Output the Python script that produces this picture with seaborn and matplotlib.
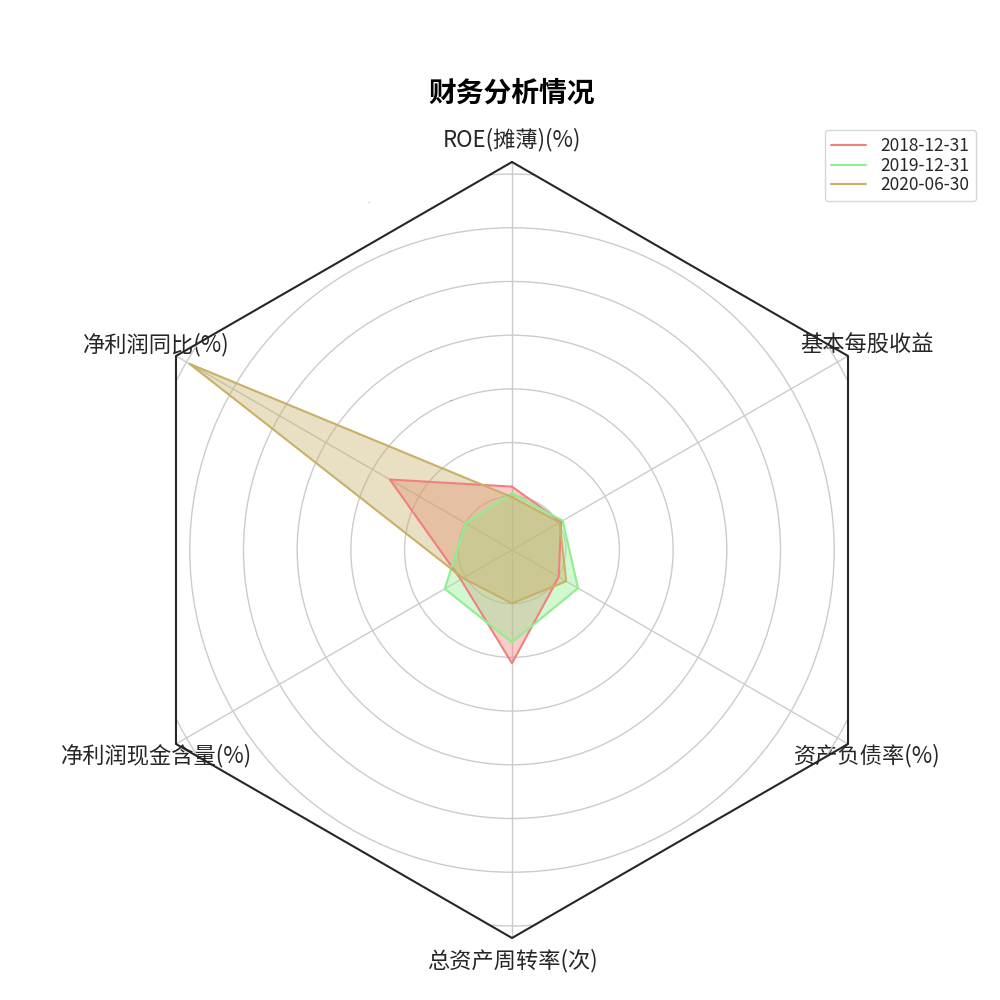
import numpy as np
import pandas as pd
import seaborn as sns
import matplotlib.pyplot as plt
from matplotlib.patches import Polygon

# ---- data ----
categories = ["ROE(摊薄)(%)", "净利润同比(%)", "净利润现金含量(%)",
              "总资产周转率(次)", "资产负债率(%)", "基本每股收益"]
dates = ["2018-12-31", "2019-12-31", "2020-06-30"]
values_2018 = [23.6, 52.5, 22.0, 42.2, 20.1, 21.1]
values_2019 = [21.1, 20.0, 28.9, 34.4, 28.4, 21.8]
values_2020 = [19.7, 138.7, 21.0, 19.9, 23.3, 20.5]
r_ticks = [20, 40, 60, 80, 100, 120, 140]
r_max = 144.5
colors = ["#F08080", "#8FEE8F", "#C8B067"]

series = [values_2018, values_2019, values_2020]

sns.set_theme(style="whitegrid")
plt.rcParams['font.family'] = ['Noto Sans CJK SC', 'DejaVu Sans']

n = len(categories)
angles = np.linspace(0, 2 * np.pi, n, endpoint=False)
angles_closed = np.concatenate([angles, [2 * np.pi]])

rows = []
for d, vals in zip(dates, series):
    vc = list(vals) + [vals[0]]
    for i, (a, v) in enumerate(zip(angles_closed, vc)):
        rows.append({"date": d, "theta": a, "value": v, "order": i})
df = pd.DataFrame(rows)

fig = plt.figure(figsize=(10, 10), dpi=100)
ax = fig.add_axes([0.124, 0.062, 0.776, 0.776], projection='polar')
ax.set_theta_offset(np.pi / 2)
ax.set_theta_direction(1)

sns.lineplot(data=df, x="theta", y="value", hue="date", palette=colors,
             sort=False, estimator=None, ax=ax, legend=False, linewidth=1.5)
for d, c in zip(dates, colors):
    sub = df[df["date"] == d]
    ax.fill(sub["theta"], sub["value"], color=c, alpha=0.4, linewidth=0)

ax.set_xlabel("")
ax.set_ylabel("")
ax.set_ylim(0, r_max)
ax.set_xticks(angles)
ax.set_xticklabels(categories, fontsize=16, color="#262626")
ax.tick_params(axis='x', pad=3)
ax.set_yticks(r_ticks)
ax.set_yticklabels([str(t) for t in r_ticks], fontsize=1, color="#555555")
ax.grid(color="#cccccc", linewidth=1)
ax.spines['polar'].set_visible(False)

# hexagonal clip region for circular gridlines
disp_angles = np.pi / 2 + angles
hex_verts = np.column_stack([0.5 + 0.5 * np.cos(disp_angles),
                             0.5 + 0.5 * np.sin(disp_angles)])
hex_patch = Polygon(hex_verts, closed=True, transform=ax.transAxes,
                    facecolor='none', edgecolor='none')
fig.canvas.draw()
for gl in ax.yaxis.get_gridlines():
    gl.set_clip_path(hex_patch)

# hexagonal frame
ax.plot(angles_closed, [r_max] * (n + 1), color="#262626", linewidth=1.5,
        clip_on=False, zorder=10)

handles = [plt.Line2D([0], [0], color=c, lw=1.5) for c in colors]
ax.legend(handles, dates, loc="upper right", bbox_to_anchor=(0.976, 0.870),
          bbox_transform=fig.transFigure, fontsize=12.5, frameon=True,
          labelspacing=0.1, borderaxespad=0)

fig.text(0.512, 0.906, "财务分析情况", ha="center", va="center",
         fontsize=20, fontweight="bold", color="black")

fig.savefig("out.png", dpi=100)
